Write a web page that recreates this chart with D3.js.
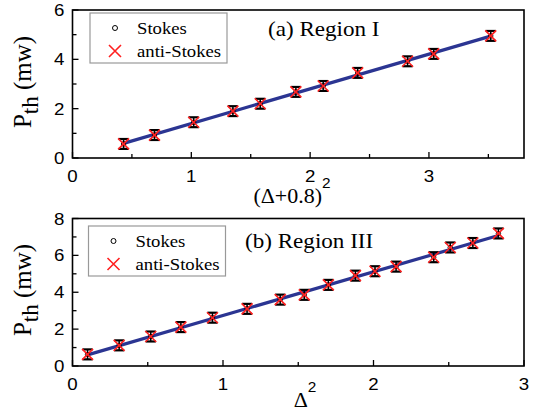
<!DOCTYPE html>
<html>
<head>
<meta charset="utf-8">
<script src="https://cdn.jsdelivr.net/npm/d3@7"></script>
<style>
  body { margin: 0; background: #fff; }
  svg { display: block; }
</style>
</head>
<body>
<div id="chart"></div>
<script>
// panel (a) Region I : x = (Delta+0.8)^2
var xA = [0.43, 0.69, 1.02, 1.35, 1.58, 1.88, 2.11, 2.40, 2.82, 3.04, 3.52];
var yA = [0.57, 0.93, 1.45, 1.90, 2.20, 2.68, 2.92, 3.45, 3.92, 4.22, 4.95];
var errA = [0.2, 0.2, 0.2, 0.2, 0.2, 0.2, 0.2, 0.2, 0.2, 0.2, 0.2];

// panel (b) Region III : x = Delta^2
var xB = [0.10, 0.31, 0.52, 0.72, 0.93, 1.16, 1.38, 1.54, 1.70, 1.88, 2.01, 2.15, 2.40, 2.51, 2.66, 2.83];
var yB = [0.63, 1.12, 1.60, 2.11, 2.62, 3.10, 3.60, 3.86, 4.40, 4.90, 5.14, 5.39, 5.90, 6.43, 6.67, 7.19];
var errB = [0.27, 0.27, 0.27, 0.27, 0.27, 0.27, 0.27, 0.27, 0.27, 0.27, 0.27, 0.27, 0.27, 0.27, 0.27, 0.27];

var xTicksA = [0, 1, 2, 3], xMinorA = [0.5, 1.5, 2.5, 3.5];
var yTicksA = [0, 2, 4, 6], yMinorA = [1, 3, 5];
var xTicksB = [0, 1, 2, 3], xMinorB = [0.5, 1.5, 2.5];
var yTicksB = [0, 2, 4, 6, 8], yMinorB = [1, 3, 5, 7];

var legendNames = ["Stokes", "anti-Stokes"];

var W = 538, H = 414;
var SX = 1.1; // the picture is a bit wider than tall
var SERIF = "'Liberation Serif'", SANS = "'Liberation Sans'";
var lineColor = "#2b3592";

var svg = d3.select("#chart").append("svg")
	.attr("width", W)
	.attr("height", H);

function txt(g, x, y, s, size, fam, anchor) {
	return g.append("text")
		.attr("transform", "translate(" + x + "," + y + ") scale(" + SX + ",1)")
		.style("font-family", fam)
		.attr("font-size", size)
		.attr("text-anchor", anchor || "start")
		.attr("fill", "#000")
		.text(s);
}

//least squares fit of the points
function fit(xs, ys) {
	var n = xs.length, mx = d3.mean(xs), my = d3.mean(ys);
	var sxy = 0, sxx = 0;
	for (var i = 0; i < n; i++) {
		sxy += (xs[i] - mx) * (ys[i] - my);
		sxx += (xs[i] - mx) * (xs[i] - mx);
	}
	var b = sxy / sxx;
	return function (x) { return my + b * (x - mx); };
}

function drawPanel(p) {
	var g = svg.append("g");
	var x = d3.scaleLinear().domain(p.xDom).range([p.left, p.right]);
	var y = d3.scaleLinear().domain(p.yDom).range([p.bottom, p.top]);

	// fit line
	var f = fit(p.xs, p.ys);
	var x0 = d3.min(p.xs), x1 = d3.max(p.xs);
	g.append("line")
		.attr("x1", x(x0)).attr("y1", y(f(x0)))
		.attr("x2", x(x1)).attr("y2", y(f(x1)))
		.attr("stroke", lineColor)
		.attr("stroke-width", 3.2);

	// points : error bars + stokes circle + anti-stokes cross
	var pts = g.selectAll("g.pt")
		.data(p.xs.map(function (d, i) { return [d, p.ys[i], p.err[i]]; }))
		.enter()
		.append("g")
		.attr("class", "pt");
	pts.append("line")
		.attr("x1", function (d) { return x(d[0]); })
		.attr("x2", function (d) { return x(d[0]); })
		.attr("y1", function (d) { return y(d[1] - d[2]); })
		.attr("y2", function (d) { return y(d[1] + d[2]); })
		.attr("stroke", "#000").attr("stroke-width", 1.5);
	[-1, 1].forEach(function (s) {
		pts.append("line")
			.attr("x1", function (d) { return x(d[0]) - 5; })
			.attr("x2", function (d) { return x(d[0]) + 5; })
			.attr("y1", function (d) { return y(d[1] + s * d[2]); })
			.attr("y2", function (d) { return y(d[1] + s * d[2]); })
			.attr("stroke", "#000").attr("stroke-width", 2.2);
	});
	pts.append("circle")
		.attr("cx", function (d) { return x(d[0]); })
		.attr("cy", function (d) { return y(d[1]); })
		.attr("r", 2.2)
		.attr("fill", "none").attr("stroke", "#000").attr("stroke-width", 1);
	pts.append("path")
		.attr("d", function (d) {
			var cx = x(d[0]), cy = y(d[1]), r = 5.5;
			return "M" + (cx - r) + "," + (cy - r) + "L" + (cx + r) + "," + (cy + r) +
				"M" + (cx - r) + "," + (cy + r) + "L" + (cx + r) + "," + (cy - r);
		})
		.attr("stroke", "#ff2020").attr("stroke-width", 1.6).attr("fill", "none");

	// ticks, inside
	var ax = g.append("g").attr("stroke", "#000").attr("stroke-width", 1.3);
	p.xTicks.concat(p.xMinor).forEach(function (t) {
		var len = p.xTicks.indexOf(t) >= 0 ? 6 : 4;
		ax.append("line").attr("x1", x(t)).attr("x2", x(t))
			.attr("y1", p.bottom).attr("y2", p.bottom - len);
	});
	p.yTicks.concat(p.yMinor).forEach(function (t) {
		var len = p.yTicks.indexOf(t) >= 0 ? 6 : 4;
		ax.append("line").attr("y1", y(t)).attr("y2", y(t))
			.attr("x1", p.left).attr("x2", p.left + len);
	});
	g.append("rect")
		.attr("x", p.left).attr("y", p.top)
		.attr("width", p.right - p.left).attr("height", p.bottom - p.top)
		.attr("fill", "none").attr("stroke", "#000").attr("stroke-width", 1.6);

	p.xTicks.forEach(function (t) {
		txt(g, x(t), p.bottom + 24, d3.format("d")(t), 17, SANS, "middle");
	});
	p.yTicks.forEach(function (t) {
		txt(g, p.left - 8, y(t) + 6, d3.format("d")(t), 17, SANS, "end");
	});

	// y label
	var yl = g.append("text")
		.style("font-family", SERIF)
		.attr("transform", "translate(31," + p.yLabelY + ") rotate(-90)")
		.attr("font-size", 25)
		.attr("text-anchor", "middle");
	yl.append("tspan").text("P");
	yl.append("tspan").attr("dy", 7).attr("font-size", 23).text("th");
	yl.append("tspan").attr("dy", -7).text(" (mw)");

	// x label
	var xl = g.append("text")
		.style("font-family", SERIF)
		.attr("transform", "translate(" + p.xLabelX + "," + p.xLabelY + ") scale(" + SX + ",1)")
		.attr("font-size", 20)
		.attr("text-anchor", "middle");
	xl.append("tspan").text(p.xLabel);
	xl.append("tspan").attr("dy", -15).style("font-family", SANS).attr("font-size", 14).text("2");

	// title
	txt(g, p.titleX, p.titleY, p.title, 21, SERIF, "start");

	// legend
	var lg = g.append("g");
	lg.append("rect")
		.attr("x", p.leg[0]).attr("y", p.leg[1])
		.attr("width", 137).attr("height", 50)
		.attr("fill", "#fff").attr("stroke", "#999").attr("stroke-width", 1.2);
	var lx = p.leg[0] + 25, ly1 = p.leg[1] + 15, ly2 = p.leg[1] + 38;
	lg.append("circle").attr("cx", lx).attr("cy", ly1).attr("r", 2.5)
		.attr("fill", "none").attr("stroke", "#000").attr("stroke-width", 1);
	lg.append("path")
		.attr("d", "M" + (lx - 6) + "," + (ly2 - 6) + "L" + (lx + 6) + "," + (ly2 + 6) +
			"M" + (lx - 6) + "," + (ly2 + 6) + "L" + (lx + 6) + "," + (ly2 - 6))
		.attr("stroke", "#ff2020").attr("stroke-width", 1.6);
	txt(lg, p.leg[0] + 47, ly1 + 6, legendNames[0], 17, SERIF, "start");
	txt(lg, p.leg[0] + 47, ly2 + 6, legendNames[1], 17, SERIF, "start");
}

drawPanel({
	xs: xA, ys: yA, err: errA,
	xDom: [0, 3.8], yDom: [0, 6],
	left: 72.5, right: 524, top: 10, bottom: 158,
	xTicks: xTicksA, xMinor: xMinorA, yTicks: yTicksA, yMinor: yMinorA,
	xLabel: "(\u0394+0.8)", xLabelX: 292, xLabelY: 203,
	yLabelY: 82,
	title: "(a) Region I", titleX: 268, titleY: 36,
	leg: [90, 13]
});

drawPanel({
	xs: xB, ys: yB, err: errB,
	xDom: [0, 3], yDom: [0, 8],
	left: 72.5, right: 524, top: 218.5, bottom: 366,
	xTicks: xTicksB, xMinor: xMinorB, yTicks: yTicksB, yMinor: yMinorB,
	xLabel: "\u0394", xLabelX: 305, xLabelY: 407,
	yLabelY: 290,
	title: "(b) Region III", titleX: 245, titleY: 248,
	leg: [88.5, 226]
});
</script>
</body>
</html>
